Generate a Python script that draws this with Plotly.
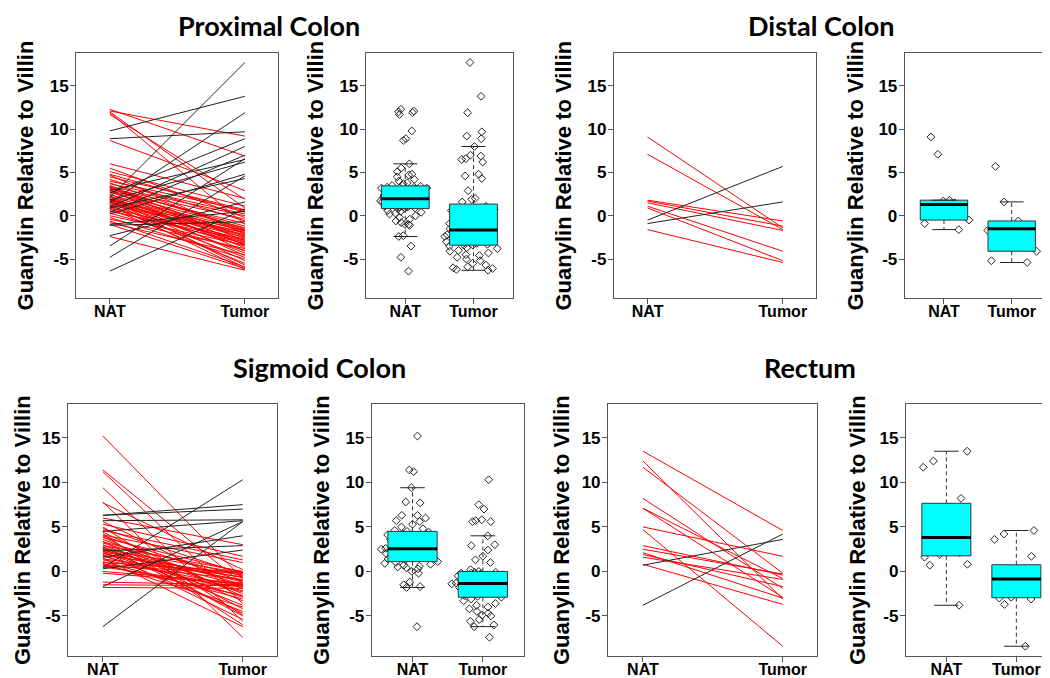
import numpy as np
import plotly.graph_objects as go

# ---------------- data ----------------
groups = ["NAT", "Tumor"]
y_ticks = [-5, 0, 5, 10, 15]
y_label = "Guanylin Relative to Villin"
region_names = ["Proximal Colon", "Distal Colon", "Sigmoid Colon", "Rectum"]

prox_nat = [2.1, 9.8, 1.5, 8.9, 2.6, 1.0, 0.4, -3.5, 2.9, 1.8, 0.2, -4.8, 0.9, -2.3, -6.4, -1.0, -1.1,
            12.3, 12.1, 12.0, 11.9, 11.7, 8.7, 6.0, 5.5, 5.1, 4.8, 4.7, 4.5, 4.2, 4.0, 3.8, 3.7, 3.5,
            3.4, 3.3, 3.3, 3.2, 3.2, 3.1, 3.0, 2.9, 2.8, 2.7, 2.5, 2.4, 2.3, 2.2, 2.1, 2.0, 1.9, 1.9,
            1.9, 1.9, 1.8, 1.7, 1.6, 1.6, 1.5, 1.4, 1.3, 1.2, 1.1, 1.0, 0.85, 0.8, 0.6, 0.5, 0.3, 0.0,
            -0.2, -0.4, -0.6, -0.8, -1.0, -2.4]
prox_tum = [17.7, 13.8, 11.9, 9.7, 8.9, 8.0, 7.0, 6.6, 6.5, 6.2, 4.8, 4.6, 4.3, 1.6, 0.8, 0.5, -0.7,
            6.9, 9.2, 0.9, -1.0, 1.9, 2.9, 2.0, -0.2, 1.1, 0.4, -2.1, 0.7, -0.6, 0.6, -1.7, 0.2, -2.9,
            0.0, -1.5, -3.4, -0.4, -2.4, -1.2, -4.1, -0.9, -2.6, -1.4, -3.7, -1.6, -4.6, -1.8, -3.0,
            -5.2, -1.7, -2.2, -3.3, -6.0, -2.0, -4.3, -2.3, -5.7, -2.5, -3.1, -6.2, -1.9, -3.5, -4.8,
            -2.7, -5.5, -3.2, -2.8, -4.0, -3.4, -5.0, -3.8, -5.9, -4.5, -6.1, -6.3]

dist_nat = [9.1, 7.1, 1.8, 1.7, 1.5, 1.1, 0.9, -1.6, -0.5, -0.9]
dist_tum = [-1.4, -1.6, -0.6, -1.2, -1.7, -4.1, -5.2, -5.4, 5.7, 1.6]

sigm_nat = [0.4, 6.3, 6.3, 5.7, 4.5, -1.7, -6.2, 1.6, 2.3, 0.3,
            15.2, 11.4, 11.2, 9.4, 7.8, 7.7, 6.0, 5.6, 5.3, 5.0, 4.8, 4.6, 4.4, 4.2, 4.1, 4.0, 3.9,
            3.8, 3.6, 3.4, 3.3, 3.2, 3.0, 2.9, 2.8, 2.7, 2.6, 2.5, 2.5, 2.4, 2.3, 2.2, 2.1, 2.0, 1.9,
            1.8, 1.7, 1.5, 1.4, 1.3, 1.1, 1.0, 0.9, 0.8, 0.7, 0.6, 0.5, 0.0, -0.2, -1.2, -1.5, -1.8]
sigm_tum = [10.3, 7.5, 7.0, 5.8, 5.7, 5.6, 5.6, 4.0, 2.9, 2.4,
            -0.8, -1.4, -3.6, -5.6, -7.4, 0.2, 3.0, -2.0, 1.7, -4.9, -0.3, 1.3, -2.8, -6.0, 1.0, -1.1,
            -4.2, -0.1, -2.5, -5.0, -0.5, -1.5, -3.3, 0.0, -4.7, -1.2, -2.2, -0.2, -3.8, -1.6, -5.4,
            -0.7, -2.9, -1.0, -4.5, -0.4, -2.3, -6.2, -0.6, -1.7, -3.1, -0.1, -4.0, -0.9, -2.7, -0.2,
            -1.8, -1.3, -1.4, -1.5, -1.6, -1.9]

rect_nat = [13.5, 12.4, 11.7, 8.2, 7.1, 7.1, 5.0, 4.7, 2.9, 2.5, 2.1, 1.9, 1.6, 0.8, 0.7, -3.8]
rect_tum = [4.6, -3.1, -0.2, -1.9, -2.9, -0.8, 1.7, -8.4, -0.4, -0.3, -3.0, -1.7, -0.9, -3.7, 3.6, 4.2]

region_data = [(prox_nat, prox_tum), (dist_nat, dist_tum), (sigm_nat, sigm_tum), (rect_nat, rect_tum)]

# ---------------- layout geometry ----------------
ROW_Y = [(0.5723, 0.9336), (0.5723, 0.9336), (0.0442, 0.4159), (0.0442, 0.4159)]
LINE_X = [(0.0648, 0.2571), (0.5769, 0.7695), (0.0571, 0.2562), (0.5714, 0.7705)]
BOX_X = [(0.3407, 0.4810), (0.8540, 0.9933), (0.3464, 0.4911), (0.8550, 0.9990)]
TITLE_POS = [(0.2481, 1.0, "top", 0), (0.7752, 1.0, "top", 0), (0.2962, 0.4587, "middle", 8),
             (0.7638, 0.4587, "middle", 8)]
YLAB_X = [(0.0171, 0.2924), (0.5286, 0.8076), (0.0133, 0.2981), (0.5267, 0.8086)]

YR = [-9.5, 18.8]
BOX_W = 0.7
TICK_FONT = dict(family="Liberation Sans, Arial, sans-serif", size=16, color="black", weight="bold")
YTICK_FONT = dict(family="Liberation Sans, Arial, sans-serif", size=17, color="black", weight="bold")
FRAME = "#555555"


def fivenum(v):
    x = np.sort(np.asarray(v, dtype=float))
    n = len(x)
    n4 = np.floor((n + 3) / 2) / 2
    d = np.array([1, n4, (n + 1) / 2, n + 1 - n4, n]) - 1
    return 0.5 * (x[np.floor(d).astype(int)] + x[np.ceil(d).astype(int)])


def box_stats(v):
    x = np.asarray(v, dtype=float)
    _, q1, med, q3, _ = fivenum(x)
    iqr = q3 - q1
    lo = x[x >= q1 - 1.5 * iqr].min()
    hi = x[x <= q3 + 1.5 * iqr].max()
    return q1, med, q3, lo, hi


fig = go.Figure()
layout = dict(width=1050, height=678, margin=dict(l=0, r=0, t=0, b=0),
              paper_bgcolor="white", plot_bgcolor="white", showlegend=False)
annotations = []

for i, (name, (nat, tum)) in enumerate(zip(region_names, region_data)):
    la, ba = 2 * i + 1, 2 * i + 2
    xl = "x" if la == 1 else f"x{la}"
    yl = "y" if la == 1 else f"y{la}"
    xb, yb = f"x{ba}", f"y{ba}"

    # ---- paired line plot ----
    rx, ry, kx, ky = [], [], [], []
    for a, b in zip(nat, tum):
        if b < a:
            rx += [1, 2, None]; ry += [a, b, None]
        else:
            kx += [1, 2, None]; ky += [a, b, None]
    fig.add_trace(go.Scatter(x=rx, y=ry, mode="lines", line=dict(color="#FF0000", width=1),
                             xaxis=xl, yaxis=yl, hoverinfo="skip"))
    fig.add_trace(go.Scatter(x=kx, y=ky, mode="lines", line=dict(color="#222222", width=1),
                             xaxis=xl, yaxis=yl, hoverinfo="skip"))

    # ---- box plot ----
    for gi, vals in enumerate([nat, tum]):
        c = gi + 1
        q1, med, q3, lo, hi = box_stats(vals)
        h = BOX_W / 2
        fig.add_trace(go.Scatter(x=[c - h, c + h, c + h, c - h, c - h], y=[q1, q1, q3, q3, q1],
                                 mode="lines", fill="toself", fillcolor="#00FFFF",
                                 line=dict(color="#333333", width=1), xaxis=xb, yaxis=yb,
                                 hoverinfo="skip"))
        fig.add_trace(go.Scatter(x=[c, c, None, c, c], y=[q3, hi, None, q1, lo], mode="lines",
                                 line=dict(color="#333333", width=1, dash="4px,3px"),
                                 xaxis=xb, yaxis=yb, hoverinfo="skip"))
        fig.add_trace(go.Scatter(x=[c - h / 2, c + h / 2, None, c - h / 2, c + h / 2],
                                 y=[hi, hi, None, lo, lo], mode="lines",
                                 line=dict(color="#222222", width=1), xaxis=xb, yaxis=yb,
                                 hoverinfo="skip"))
        fig.add_trace(go.Scatter(x=[c - h, c + h], y=[med, med], mode="lines",
                                 line=dict(color="black", width=3), xaxis=xb, yaxis=yb,
                                 hoverinfo="skip"))
        fig.add_trace(go.Box(y=vals, x0=c, width=0.95, boxpoints="all", jitter=1, pointpos=0,
                             fillcolor="rgba(0,0,0,0)", line=dict(width=0, color="rgba(0,0,0,0)"),
                             whiskerwidth=0,
                             marker=dict(symbol="diamond-open", size=6, color="#222222",
                                         line=dict(width=1, color="#222222")),
                             xaxis=xb, yaxis=yb, hoverinfo="y"))

    common = dict(showgrid=False, zeroline=False, showline=True, mirror=True, linecolor=FRAME,
                  linewidth=1, ticks="outside", ticklen=5, tickwidth=1, tickcolor=FRAME,
                  fixedrange=True)
    ykw = dict(common, domain=list(ROW_Y[i]), range=YR, tickvals=y_ticks,
               ticktext=[str(t) for t in y_ticks], tickfont=YTICK_FONT, ticklabelstandoff=-2)
    xkw = dict(common, tickvals=[1, 2], ticktext=groups, tickfont=TICK_FONT, ticklabelstandoff=-6)
    layout["xaxis" if la == 1 else f"xaxis{la}"] = dict(xkw, domain=list(LINE_X[i]),
                                                          range=[0.75, 2.245], anchor=yl)
    layout["yaxis" if la == 1 else f"yaxis{la}"] = dict(ykw, anchor=xl)
    layout[f"xaxis{ba}"] = dict(xkw, domain=list(BOX_X[i]), range=[0.42, 2.58], anchor=yb)
    layout[f"yaxis{ba}"] = dict(ykw, anchor=xb)

    tx, ty, tanc, tshift = TITLE_POS[i]
    annotations.append(dict(text=name, x=tx, y=ty, xref="paper", yref="paper", showarrow=False,
                            xanchor="center", yanchor=tanc, borderpad=0, yshift=tshift,
                            font=dict(family="Lato, Open Sans, sans-serif", size=27,
                                      color="black", weight="bold")))
    ymid = sum(ROW_Y[i]) / 2
    for xx in YLAB_X[i]:
        annotations.append(dict(text=y_label, x=xx, y=ymid, xref="paper", yref="paper",
                                showarrow=False, textangle=-90, xanchor="center",
                                yanchor="middle",
                                font=dict(family="Liberation Sans, Arial, sans-serif", size=22,
                                          color="black", weight="bold")))

layout["annotations"] = annotations
layout["boxmode"] = "overlay"
fig.update_layout(**layout)
fig.write_html("out.html")
